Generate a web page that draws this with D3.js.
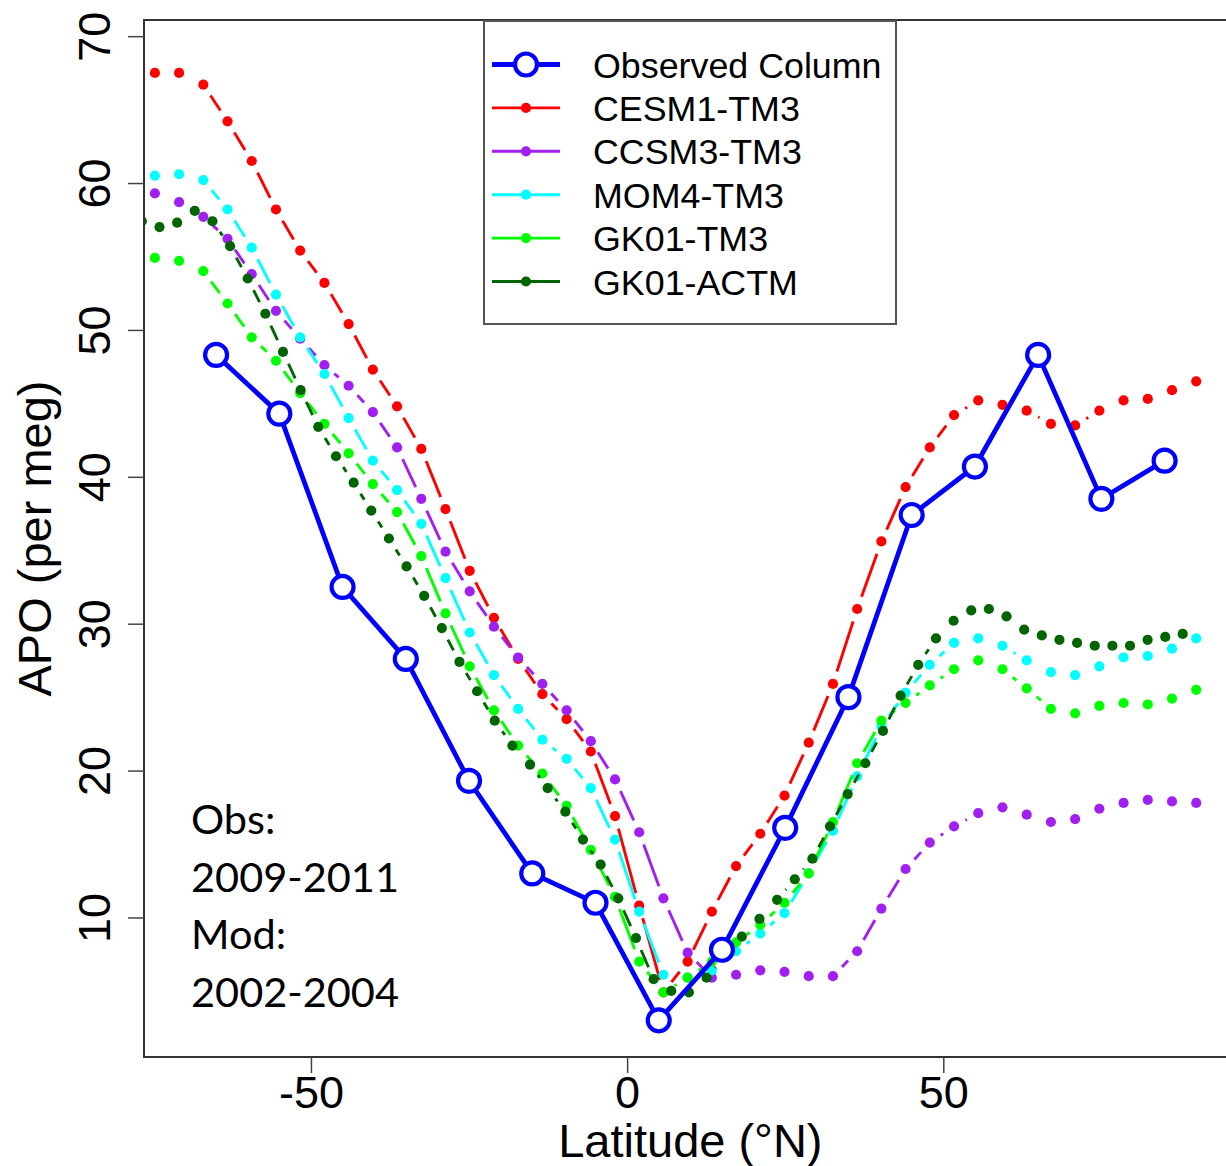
<!DOCTYPE html>
<html>
<head>
<meta charset="utf-8">
<script src="https://cdn.jsdelivr.net/npm/d3@7"></script>
<style>
  body { margin: 0; background: #fff; }
  svg { display: block; font-family: "Liberation Sans", Arial, sans-serif; }
</style>
</head>
<body>
<div id="chart"></div>
<script>
// latitude grids (TM3 ~3.83 deg, ACTM T42 gaussian)
var tm3Lat = [-74.68, -70.85, -67.02, -63.19, -59.36, -55.53, -51.70, -47.87, -44.04, -40.21,
  -36.38, -32.55, -28.72, -24.89, -21.06, -17.23, -13.40, -9.57, -5.74, -1.91,
  1.91, 5.74, 9.57, 13.40, 17.23, 21.06, 24.89, 28.72, 32.55, 36.38,
  40.21, 44.04, 47.87, 51.70, 55.53, 59.36, 63.19, 67.02, 70.85, 74.68,
  78.51, 82.34, 86.17, 90.00];
var actmLat = [-76.74, -73.95, -71.16, -68.37, -65.58, -62.79, -60.00, -57.21, -54.42, -51.63,
  -48.84, -46.04, -43.25, -40.46, -37.67, -34.88, -32.09, -29.30, -26.51, -23.72,
  -20.93, -18.14, -15.35, -12.56, -9.77, -6.98, -4.19, -1.40, 1.40, 4.19,
  6.98, 9.77, 12.56, 15.35, 18.14, 20.93, 23.72, 26.51, 29.30, 32.09,
  34.88, 37.67, 40.46, 43.25, 46.04, 48.84, 51.63, 54.42, 57.21, 60.00,
  62.79, 65.58, 68.37, 71.16, 73.95, 76.74, 79.53, 82.31, 85.10, 87.86];
var obsLat = [-65, -55, -45, -35, -25, -15, -5, 5, 15, 25, 35, 45, 55, 65, 75, 85];

var obsAPO = [48.3, 44.3, 32.5, 27.6, 19.3, 13.0, 11.0, 3.0, 7.8, 16.1, 25.0, 37.4, 40.7, 48.3, 38.5, 41.1];
var cesm1 = [67.5, 67.5, 66.7, 64.2, 61.5, 58.2, 55.4, 53.2, 50.4, 47.3,
  44.8, 41.9, 37.8, 33.6, 30.4, 27.6, 25.2, 23.5, 21.3, 16.9,
  10.8, 4.9, 7.0, 10.4, 13.5, 15.7, 18.3, 21.9, 25.9, 31.0,
  35.6, 39.3, 42.0, 44.2, 45.2, 44.9, 44.5, 43.6, 43.5, 44.5,
  45.2, 45.3, 45.9, 46.5];
var ccsm3 = [59.3, 58.7, 57.7, 56.2, 53.8, 51.3, 49.4, 47.6, 46.2, 44.4,
  42.0, 38.5, 34.9, 32.2, 29.8, 27.7, 25.9, 24.1, 22.0, 19.4,
  15.8, 11.3, 7.6, 5.9, 6.1, 6.4, 6.3, 6.0, 6.0, 7.7,
  10.6, 13.3, 15.1, 16.2, 17.1, 17.5, 17.0, 16.5, 16.7, 17.4,
  17.8, 18.0, 17.9, 17.8];
var mom4 = [60.5, 60.6, 60.2, 58.2, 55.6, 52.4, 49.5, 47.0, 44.0, 41.1,
  39.1, 36.8, 33.1, 29.4, 26.5, 24.2, 22.1, 20.8, 18.8, 15.3,
  10.4, 6.1, 5.9, 6.4, 7.7, 8.9, 10.3, 13.0, 15.9, 19.6,
  23.0, 25.3, 27.2, 28.7, 29.0, 28.5, 27.5, 26.7, 26.5, 27.1,
  27.7, 27.8, 28.3, 29.0];
var gk01tm3 = [54.9, 54.7, 54.0, 51.8, 49.5, 47.9, 45.7, 43.6, 41.6, 39.5,
  37.6, 34.6, 30.7, 27.1, 24.1, 21.7, 19.8, 17.6, 14.6, 11.4,
  7.0, 4.9, 5.9, 7.0, 8.3, 9.5, 11.0, 13.0, 16.5, 20.5,
  23.4, 24.6, 25.8, 26.9, 27.5, 26.9, 25.6, 24.2, 23.9, 24.4,
  24.6, 24.5, 24.9, 25.5];
var gk01actm = [57.4, 57.0, 57.3, 58.1, 57.4, 55.7, 53.5, 51.1, 48.5, 45.9,
  43.4, 41.4, 39.6, 37.7, 35.8, 33.9, 31.9, 29.7, 27.4, 25.4,
  23.4, 21.7, 20.4, 18.8, 17.2, 15.3, 13.6, 11.3, 8.6, 5.8,
  5.0, 4.9, 5.9, 7.3, 8.7, 9.9, 11.2, 12.6, 14.0, 16.2,
  18.4, 20.5, 22.7, 25.1, 27.2, 29.0, 30.2, 30.9, 31.0, 30.5,
  29.6, 29.2, 28.9, 28.7, 28.5, 28.5, 28.5, 28.9, 29.1, 29.3];

var seriesNames = ["Observed Column", "CESM1-TM3", "CCSM3-TM3", "MOM4-TM3", "GK01-TM3", "GK01-ACTM"];
var xTicks = [-50, 0, 50];
var yTicks = [10, 20, 30, 40, 50, 60, 70];
var noteLines = ["Obs:", "2009-2011", "Mod:", "2002-2004"];

var models = [
  {lat: tm3Lat, val: cesm1, color: "#ff0000"},
  {lat: tm3Lat, val: ccsm3, color: "#a020f0"},
  {lat: tm3Lat, val: mom4, color: "#00ffff"},
  {lat: tm3Lat, val: gk01tm3, color: "#00ff00"},
  {lat: actmLat, val: gk01actm, color: "#006400"}
];

var width = 1226, height = 1166;
var pLeft = 144, pRight = 1236.7, pTop = 20, pBottom = 1057;

var svg = d3.select("#chart").append("svg")
  .attr("width", width).attr("height", height);

var x = d3.scaleLinear().domain([-76.4, 96.4]).range([pLeft, pRight]);
var y = d3.scaleLinear().domain([0.5, 71.1]).range([pBottom, pTop]);

svg.append("clipPath").attr("id", "plotclip")
  .append("rect").attr("x", pLeft).attr("y", pTop)
  .attr("width", pRight - pLeft).attr("height", pBottom - pTop);

var plot = svg.append("g").attr("clip-path", "url(#plotclip)");

// type "b" style: segments with a gap around each point
var gap = 13;
models.forEach(function(m){
  var pts = m.lat.map(function(d, i){ return [x(d), y(m.val[i])]; });
  var segs = [];
  for (var i = 0; i < pts.length - 1; i++) {
    var dx = pts[i+1][0] - pts[i][0], dy = pts[i+1][1] - pts[i][1];
    var len = Math.sqrt(dx*dx + dy*dy);
    if (len > 2*gap + 1) {
      var ux = dx/len, uy = dy/len;
      segs.push([pts[i][0] + ux*gap, pts[i][1] + uy*gap, pts[i+1][0] - ux*gap, pts[i+1][1] - uy*gap]);
    }
  }
  var g = plot.append("g");
  g.selectAll("line").data(segs).enter().append("line")
    .attr("x1", function(d){ return d[0]; })
    .attr("y1", function(d){ return d[1]; })
    .attr("x2", function(d){ return d[2]; })
    .attr("y2", function(d){ return d[3]; })
    .attr("stroke", m.color).attr("stroke-width", 2.9);
  g.selectAll("circle").data(pts).enter().append("circle")
    .attr("cx", function(d){ return d[0]; })
    .attr("cy", function(d){ return d[1]; })
    .attr("r", 5.1).attr("fill", m.color);
});

// observations
var obsLine = d3.line()
  .x(function(d, i){ return x(obsLat[i]); })
  .y(function(d){ return y(d); });
plot.append("path").datum(obsAPO)
  .attr("d", obsLine).attr("fill", "none")
  .attr("stroke", "#0000ff").attr("stroke-width", 4.8);
plot.selectAll(".obs").data(obsAPO).enter().append("circle")
  .attr("class", "obs")
  .attr("cx", function(d, i){ return x(obsLat[i]); })
  .attr("cy", function(d){ return y(d); })
  .attr("r", 11).attr("fill", "#fff")
  .attr("stroke", "#0000ff").attr("stroke-width", 4.2);

// box
svg.append("rect").attr("x", pLeft).attr("y", pTop)
  .attr("width", pRight - pLeft).attr("height", pBottom - pTop)
  .attr("fill", "none").attr("stroke", "#333").attr("stroke-width", 2);

// axes
var xAxis = svg.append("g").attr("transform", "translate(0," + pBottom + ")")
  .call(d3.axisBottom(x).tickValues(xTicks).tickSize(16).tickPadding(3).tickFormat(d3.format("d")));
xAxis.select(".domain").remove();
xAxis.selectAll("line").attr("stroke", "#444").attr("stroke-width", 1.5);
xAxis.selectAll("text").attr("font-size", 45).attr("fill", "#000")
  .attr("font-family", "Liberation Sans, Arial, sans-serif")
  .text(function(d){ return d < 0 ? "-" + Math.abs(d) : d; });

var yAxis = svg.append("g").attr("transform", "translate(" + pLeft + ",0)")
  .call(d3.axisLeft(y).tickValues(yTicks).tickSize(16));
yAxis.select(".domain").remove();
yAxis.selectAll("line").attr("stroke", "#444").attr("stroke-width", 1.5);
yAxis.selectAll("text").attr("x", null).attr("dy", null)
  .attr("text-anchor", "middle")
  .attr("transform", "translate(-34,0) rotate(-90)")
  .attr("font-size", 45).attr("fill", "#000")
  .attr("font-family", "Liberation Sans, Arial, sans-serif");

svg.append("text").attr("x", (pLeft + pRight)/2).attr("y", 1157)
  .attr("text-anchor", "middle").attr("font-size", 47)
  .text("Latitude (\u00B0N)");
svg.append("text")
  .attr("transform", "translate(51," + ((pTop + pBottom)/2) + ") rotate(-90)")
  .attr("text-anchor", "middle").attr("font-size", 47)
  .text("APO (per meg)");

// legend
var legend = svg.append("g");
legend.append("rect").attr("x", 484).attr("y", 21).attr("width", 412).attr("height", 303)
  .attr("fill", "#fff").attr("stroke", "#555").attr("stroke-width", 2);
var legColors = ["#0000ff"].concat(models.map(function(m){ return m.color; }));
seriesNames.forEach(function(name, i){
  var cy = 64.5 + i*43.4;
  legend.append("line").attr("x1", 492).attr("x2", 560).attr("y1", cy).attr("y2", cy)
    .attr("stroke", legColors[i]).attr("stroke-width", i === 0 ? 4.8 : 2.9);
  if (i === 0) {
    legend.append("circle").attr("cx", 526).attr("cy", cy).attr("r", 11)
      .attr("fill", "#fff").attr("stroke", "#0000ff").attr("stroke-width", 4.2);
  } else {
    legend.append("circle").attr("cx", 526).attr("cy", cy).attr("r", 5.1).attr("fill", legColors[i]);
  }
  legend.append("text")
    .attr("x", 593).attr("y", cy + 13)
    .attr("font-size", 35.8).text(name);
});

// note
svg.append("g").selectAll("text").data(noteLines).enter().append("text")
  .attr("x", 191).attr("y", function(d, i){ return 834 + i*57.5; })
  .attr("font-family", "Lato, 'Open Sans', sans-serif")
  .attr("font-size", 41.5).attr("fill", "#000")
  .text(function(d){ return d; });
</script>
</body>
</html>
